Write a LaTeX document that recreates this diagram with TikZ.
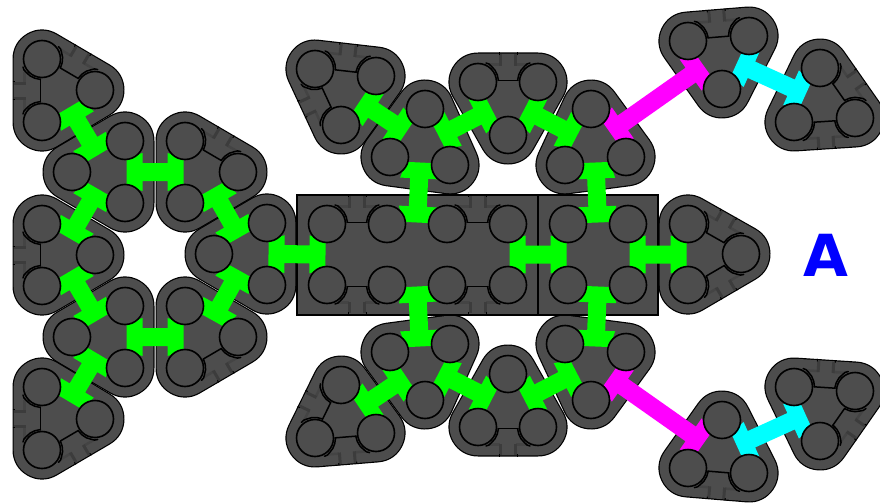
\documentclass[tikz,border=0pt]{standalone}
\usepackage{fontspec}
\setmainfont{DejaVu Sans}
\usetikzlibrary{calc}
\definecolor{modgray}{RGB}{77,77,77}
\definecolor{strip}{RGB}{60,60,60}
\definecolor{stripfaint}{RGB}{68,68,68}
\definecolor{arrowgreen}{RGB}{0,255,0}
\definecolor{arrowmagenta}{RGB}{255,0,255}
\definecolor{arrowcyan}{RGB}{0,255,255}
\definecolor{labelblue}{RGB}{0,0,255}
\tikzset{
  hullout/.style={draw=black,fill=black,line width=59pt,line join=round},
  hullin/.style={draw=modgray,fill=modgray,line width=56.6pt,line join=round},
  blockbox/.style={draw=black,fill=modgray,line width=1.2pt},
  port/.style={draw=black,fill=modgray,line width=1.6pt},
  linkline/.style={draw=black,line width=1.5pt,line join=round,line cap=round},
  notchline/.style={draw=strip,line width=3pt},
  notchfaint/.style={draw=stripfaint,line width=2.5pt},
  edgetick/.style={draw=black,line width=1pt},
}
\newcommand\tricoords[4]{%
  \coordinate (#1a) at (#2);\coordinate (#1b) at (#3);\coordinate (#1c) at (#4);}
\newcommand\hull[1]{%
  \path[hullout] (#1a)--(#1b)--(#1c)--cycle;
  \path[hullin] (#1a)--(#1b)--(#1c)--cycle;}
\newcommand\ports[1]{%
  \path[port] (#1a) circle[radius=18.5pt] (#1b) circle[radius=18.5pt] (#1c) circle[radius=18.5pt];}
% local frame: #1 along side from base, #2 outward
\newcommand\onp[2]{($(PP)+#1*(UPv)+#2*(NNv)$)}
\newcommand\onq[2]{($(QQ)+#1*(UQv)+#2*(NNv)$)}
\newcommand\onm[2]{($(MM)+#1*(UQv)+#2*(NNv)$)}
\newcommand\setside[3]{%
  \coordinate (PP) at (#1);\coordinate (QQ) at (#2);\coordinate (RR) at (#3);
  \coordinate (MM) at ($(PP)!.5!(QQ)$);
  \coordinate (FF) at ($(PP)!(RR)!(QQ)$);
  \coordinate (NN) at ($(FF)!-1pt!(RR)$);
  \coordinate (UP) at ($(PP)!1pt!(QQ)$);
  \coordinate (UQ) at ($(QQ)!1pt!(PP)$);
  \coordinate (NNv) at ($(NN)-(FF)$);
  \coordinate (UPv) at ($(UP)-(PP)$);
  \coordinate (UQv) at ($(UQ)-(QQ)$);}
% notch on the hull edge of a free side
\newcommand\notch[3]{%
  \setside{#1}{#2}{#3}%
  \path[notchfaint] \onm{-19}{17.5} -- \onm{-8}{17.5};
  \path[notchfaint] \onm{8}{17.5} -- \onm{19}{17.5};
  \path[notchline] \onm{-7.5}{28} -- \onm{-7.5}{16.5};
  \path[notchline] \onm{7.5}{28} -- \onm{7.5}{16.5};
  \path[edgetick] \onm{-9}{29.5} -- \onm{-9}{27};
  \path[edgetick] \onm{9}{29.5} -- \onm{9}{27};}
% black link between two ports of a free side
\newcommand\portlink[3]{%
  \setside{#1}{#2}{#3}%
  \path[linkline] \onp{20}{1.5} -- \onq{20}{1.5};
  \path[linkline] \onp{20.4}{1.7} -- \onp{19.3}{7} -- \onp{16.9}{11.9} -- \onp{13.3}{15.8} -- \onp{11}{18} -- \onp{8}{19};
  \path[linkline] \onq{20.4}{1.7} -- \onq{19.3}{7} -- \onq{16.9}{11.9} -- \onq{13.3}{15.8} -- \onq{11}{18} -- \onq{8}{19};}
\newcommand\biarrow[5]{%
  \coordinate (MA) at ($(#2)!.5!(#3)$);
  \coordinate (MB) at ($(#4)!.5!(#5)$);
  \coordinate (AA) at ($(MA)!1.5pt!(MB)$);
  \coordinate (BB) at ($(MB)!1.5pt!(MA)$);
  \coordinate (HA) at ($(MA)!17.5pt!(MB)$);
  \coordinate (HB) at ($(MB)!17.5pt!(MA)$);
  \fill[#1] ($(AA)!14pt!90:(BB)$) -- ($(HA)!19pt!90:(BB)$) -- ($(HA)!9pt!90:(BB)$)
    -- ($(HB)!9pt!-90:(AA)$) -- ($(HB)!19pt!-90:(AA)$) -- ($(BB)!14pt!-90:(AA)$)
    -- ($(BB)!14pt!90:(AA)$) -- ($(HB)!19pt!90:(AA)$) -- ($(HB)!9pt!90:(AA)$)
    -- ($(HA)!9pt!-90:(BB)$) -- ($(HA)!19pt!-90:(BB)$) -- ($(AA)!14pt!-90:(BB)$) -- cycle;}
\begin{document}
\begin{tikzpicture}[x=1pt,y=-1pt]
\useasboundingbox (0,0) rectangle (880,503);
% module centres
\tricoords{L}{42,59}{95,90}{42,122}
\tricoords{M}{72,172}{125,141}{125,203}
\tricoords{N}{185,141}{185,203}{238,172}
\tricoords{O}{42,224}{95,255}{42,286}
\tricoords{P}{267,223}{267,285}{214,254}
\tricoords{Q}{72,337}{125,306}{125,368}
\tricoords{R}{185,306}{185,368}{238,337}
\tricoords{S}{42,387}{95,419}{42,450}
\tricoords{U}{315,69}{376,76}{341,125}
\tricoords{V}{425,109}{390,157}{450,165}
\tricoords{W}{478,82}{538,82}{508,135}
\tricoords{X}{591,109}{565,165}{626,157}
\tricoords{Y}{688,41}{749,36}{722,89}
\tricoords{Z}{820,68}{794,122}{855,118}
\tricoords{E}{688,224}{688,285}{741,254}
\tricoords{u}{315,438}{376,433}{341,385}
\tricoords{v}{425,400}{390,352}{450,344}
\tricoords{w}{478,427}{538,427}{508,374}
\tricoords{x}{591,400}{565,344}{626,352}
\tricoords{y}{688,468}{749,473}{722,420}
\tricoords{z}{820,441}{794,387}{855,391}
\foreach \n/\xx in {1/327,2/387,3/447,4/508,5/568,6/628}{
  \coordinate (B\n) at (\xx,224);
  \coordinate (C\n) at (\xx,285);
}
% hulls and blocks
\foreach \t in {L,M,N,O,P,Q,R,S,U,V,W,X,Y,Z,E,u,v,w,x,y,z}{\hull{\t}}
\path[blockbox] (297,195) rectangle (538,315);
\path[blockbox] (538,195) rectangle (658,315);
% notches on free sides
\foreach \p/\q/\r in {La/Lb/Lc,La/Lc/Lb,Na/Nc/Nb,Oa/Oc/Ob,Rb/Rc/Ra,Sb/Sc/Sa,Sa/Sc/Sb,
  Ua/Ub/Uc,Ua/Uc/Ub,Wa/Wb/Wc,Ya/Yb/Yc,Za/Zc/Zb,Zb/Zc/Za,Ea/Ec/Eb,Eb/Ec/Ea,
  ua/ub/uc,ua/uc/ub,wa/wb/wc,ya/yb/yc,za/zc/zb,zb/zc/za,
  B1/B2/C1,B3/B4/C3,C1/C2/B1,C3/C4/B3}{\notch{\p}{\q}{\r}}
% arrows
\biarrow{arrowgreen}{Lb}{Lc}{Ma}{Mb}
\biarrow{arrowgreen}{Ma}{Mc}{Oa}{Ob}
\biarrow{arrowgreen}{Mb}{Mc}{Na}{Nb}
\biarrow{arrowgreen}{Nb}{Nc}{Pa}{Pc}
\biarrow{arrowgreen}{Pb}{Pc}{Ra}{Rc}
\biarrow{arrowgreen}{Qc}{Qb}{Ra}{Rb}
\biarrow{arrowgreen}{Ob}{Oc}{Qa}{Qb}
\biarrow{arrowgreen}{Qa}{Qc}{Sa}{Sb}
\biarrow{arrowgreen}{Pa}{Pb}{B1}{C1}
\biarrow{arrowgreen}{B4}{C4}{B5}{C5}
\biarrow{arrowgreen}{B6}{C6}{Ea}{Eb}
\biarrow{arrowgreen}{Ub}{Uc}{Va}{Vb}
\biarrow{arrowgreen}{Va}{Vc}{Wa}{Wc}
\biarrow{arrowgreen}{Wb}{Wc}{Xa}{Xb}
\biarrow{arrowgreen}{Vb}{Vc}{B2}{B3}
\biarrow{arrowgreen}{Xb}{Xc}{B5}{B6}
\biarrow{arrowmagenta}{Xa}{Xc}{Ya}{Yc}
\biarrow{arrowcyan}{Yb}{Yc}{Za}{Zb}
\biarrow{arrowgreen}{ub}{uc}{va}{vb}
\biarrow{arrowgreen}{va}{vc}{wa}{wc}
\biarrow{arrowgreen}{wb}{wc}{xa}{xb}
\biarrow{arrowgreen}{vb}{vc}{C2}{C3}
\biarrow{arrowgreen}{xb}{xc}{C5}{C6}
\biarrow{arrowmagenta}{xa}{xc}{ya}{yc}
\biarrow{arrowcyan}{yb}{yc}{za}{zb}
% ports
\foreach \t in {L,M,N,O,P,Q,R,S,U,V,W,X,Y,Z,E,u,v,w,x,y,z}{\ports{\t}}
\foreach \n in {1,...,6}{
  \path[port] (B\n) circle[radius=18.5pt] (C\n) circle[radius=18.5pt];
}
% links on free sides
\foreach \p/\q/\r in {La/Lb/Lc,La/Lc/Lb,Na/Nc/Nb,Oa/Oc/Ob,Rb/Rc/Ra,Sb/Sc/Sa,Sa/Sc/Sb,
  Ua/Ub/Uc,Ua/Uc/Ub,Wa/Wb/Wc,Ya/Yb/Yc,Za/Zc/Zb,Zb/Zc/Za,Ea/Ec/Eb,Eb/Ec/Ea,
  ua/ub/uc,ua/uc/ub,wa/wb/wc,ya/yb/yc,za/zc/zb,zb/zc/za,
  B1/B2/C1,B3/B4/C3,C1/C2/B1,C3/C4/B3}{\portlink{\p}{\q}{\r}}
\node[text=labelblue,font=\fontsize{58}{58}\selectfont\bfseries,inner sep=0pt] (label) at (826,255) {A};
\end{tikzpicture}
\end{document}
